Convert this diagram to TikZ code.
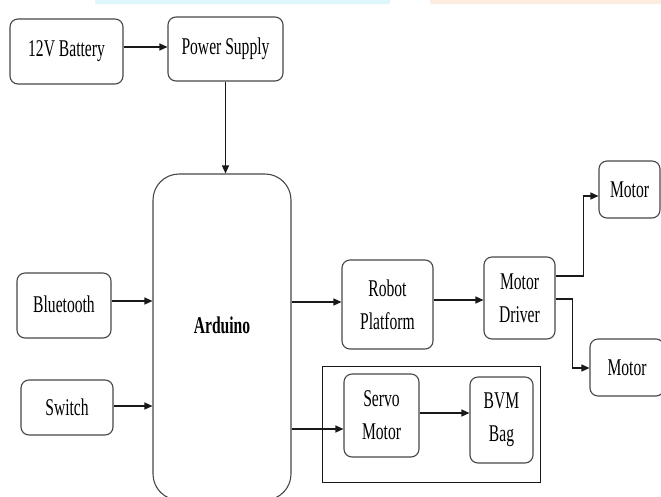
\documentclass[tikz,border=0pt]{standalone}
\usepackage{fontspec}
\setmainfont{Liberation Serif}[FakeStretch=0.65]
\usetikzlibrary{arrows.meta}
\definecolor{barcyan}{RGB}{222,246,252}
\definecolor{barpeach}{RGB}{253,236,224}
\begin{document}
\begin{tikzpicture}[x=1pt,y=-1pt,
  box/.style={draw=black!72, line width=1.1pt, rounded corners=8pt, align=center, inner sep=0pt,
    font=\fontsize{24}{33}\selectfont},
  arr/.style={draw=black!90, line width=1.2pt, -{Triangle[length=8pt,width=7pt]}},
  line/.style={draw=black!90, line width=1.2pt}
]
\useasboundingbox (0,0) rectangle (661,496);
\clip (0,0) rectangle (661,496);
\fill[white] (0,0) rectangle (661,496);
% top bars
\fill[barcyan, rounded corners=2pt] (95,-4) rectangle (390,4);
\fill[barpeach, rounded corners=2pt] (430,-4) rectangle (665,4);

% nodes
\node[box, minimum width=113pt, minimum height=65pt] (bat) at (66.5,51.5) {\raisebox{4pt}{12V Battery}};
\node[box, minimum width=115pt, minimum height=64pt] (ps) at (225.5,49) {\raisebox{6pt}{Power Supply}};
\node[box, rounded corners=26pt, minimum width=138pt, minimum height=326pt] (ard) at (222,337) {\raisebox{23pt}{\textbf{Arduino}}};
\node[box, minimum width=94pt, minimum height=65pt] (bt) at (64,305.5) {\raisebox{3pt}{Bluetooth}};
\node[box, minimum width=92pt, minimum height=55pt] (sw) at (67,407.5) {Switch};
\node[box, minimum width=91pt, minimum height=89pt] (rp) at (387.5,304.5) {Robot\\Platform};
\node[box, minimum width=71pt, minimum height=82pt] (md) at (519.5,298) {Motor\\Driver};
\node[box, minimum width=61pt, minimum height=57pt] (m1) at (629.5,189.5) {Motor};
\node[box, minimum width=74pt, minimum height=57pt] (m2) at (627,367.5) {Motor};
\node[draw=black!90, line width=1pt, minimum width=218pt, minimum height=116pt, inner sep=0pt] (grp) at (431,424) {};
\node[box, minimum width=75pt, minimum height=83pt] (sv) at (381.5,415.5) {Servo\\Motor};
\node[box, minimum width=63pt, minimum height=86pt] (bvm) at (501.5,420) {BVM\\Bag};

% connectors
\draw[arr] (bat.east |- 0,47) -- (ps.west |- 0,47);
\draw[arr] (ps.south) -- (ps.south |- ard.north);
\draw[arr] (bt.east |- 0,301) -- (ard.west |- 0,301);
\draw[arr] (sw.east |- 0,406) -- (ard.west |- 0,406);
\draw[arr] (ard.east |- 0,302) -- (rp.west |- 0,302);
\draw[arr] (rp.east |- 0,300) -- (md.west |- 0,300);
\draw[arr] (md.east |- 0,276) -- ++(28,0) |- (m1.west |- 0,196);
\draw[arr] (md.east |- 0,299) -- ++(17,0) |- (m2.west |- 0,368);
\draw[arr] (ard.east |- 0,429) -- (sv.west |- 0,429);
\draw[arr] (sv.east |- 0,413) -- (bvm.west |- 0,413);
\end{tikzpicture}
\end{document}
